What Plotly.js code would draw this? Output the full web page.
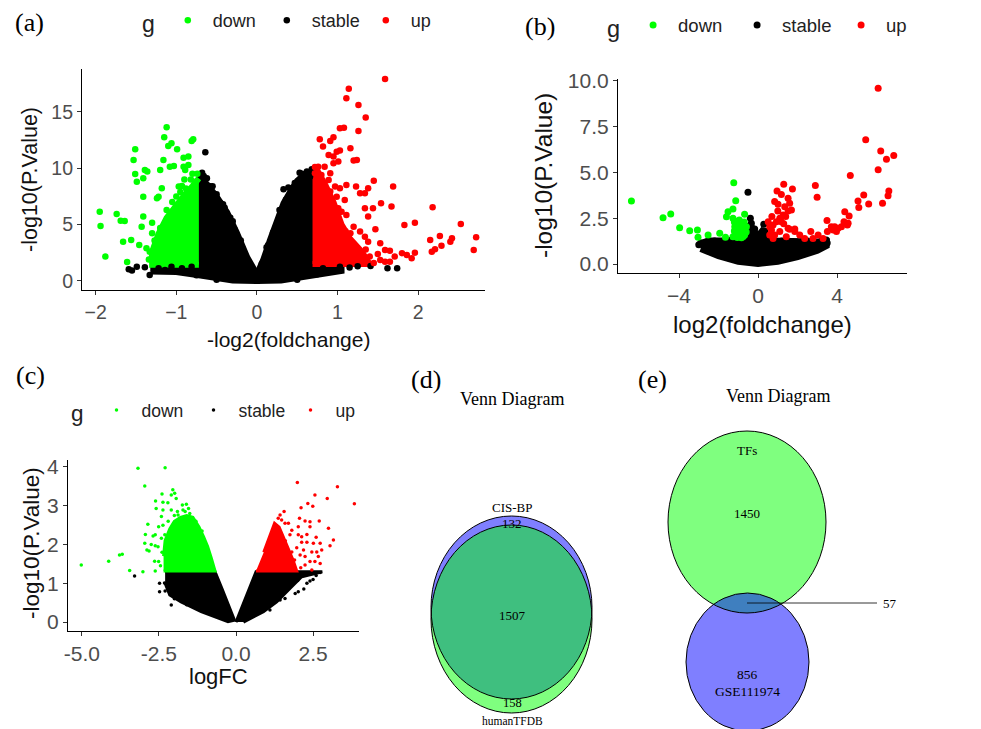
<!DOCTYPE html>
<html><head><meta charset="utf-8">
<script src="https://cdn.plot.ly/plotly-3.0.1.min.js"></script>
<style>html,body{margin:0;padding:0;background:#fff}#chart{width:981px;height:729px}</style>
</head><body><div id="chart"></div>
<script>
// ---------------- DATA ----------------
const groups = ['down','stable','up'];
// Panel (a)
const a_down_x = [-1.95,-1.94,-1.88,-1.74,-1.69,-1.64,-1.66,-1.56,-1.61,-1.51,-1.53,-1.51,-1.49,-1.41,-1.39,-1.36,-1.41,-1.41,-1.43,-1.46,-1.37,-1.30,-1.30,-1.24,-1.22,-1.18,-1.20,-1.16,-1.15,-1.12,-1.10,-1.06,-0.99,-1.08,-1.03,-0.91,-0.85,-0.91,-0.81,-0.79,-0.93,-0.89,-0.85,-0.97,-1.25,-1.30,-1.27,-1.15,-1.12,-1.05,-1.00,-0.95,-0.88,-0.82,-0.77,-0.74,-1.20,-1.34,-1.33,-1.05,-0.90,-0.80];
const a_down_y = [6.15,4.88,2.16,5.94,5.35,5.32,3.49,3.64,1.69,11.68,10.74,9.49,8.81,9.11,9.85,9.70,7.48,5.71,4.82,3.19,2.90,5.17,4.23,7.34,7.48,8.22,9.85,10.74,12.75,13.63,11.98,12.22,11.68,10.14,10.20,10.94,11.03,10.14,12.42,12.57,8.43,9.85,10.29,8.37,3.0,2.2,3.6,5.0,6.3,6.0,7.5,7.9,8.2,9.0,8.8,9.5,4.7,1.9,2.6,7.0,9.0,9.5];
const a_stable_x = [-1.59,-1.55,-1.49,-1.39,-1.33,-1.22,-1.14,-1.06,-0.93,-0.81,-0.64,-0.68,-0.62,-0.55,-0.50,-0.45,-0.40,-0.30,-0.20,0.33,0.39,0.53,0.60,0.66,0.62,0.45,0.40,0.28,0.12,1.41,1.62,1.74,1.03,0.91,0.82,1.15,1.25,0.75,-0.75,0.50,-0.50,-0.10,-0.18,-0.28,-0.33,-0.42,-0.58,-0.66,0.06,0.14,0.20,0.30,0.36,0.47,0.56,0.68];
const a_stable_y = [1.04,0.92,1.27,1.21,0.53,1.12,0.98,1.27,1.12,1.27,11.42,9.6,9.1,8.4,7.7,6.9,6.5,5.3,3.6,8.14,8.28,9.6,9.4,9.26,9.7,8.3,7.6,6.3,3.0,1.33,1.12,1.12,1.27,0.83,1.12,1.2,1.3,0.6,0.5,0.1,0.1,1.6,2.9,4.6,5.6,6.8,8.4,9.3,1.5,3.2,4.3,5.9,7.2,8.7,9.5,9.9];
const a_up_x = [1.59,1.14,1.11,1.26,1.35,1.03,1.08,1.26,0.78,0.91,0.95,0.82,0.99,1.03,1.16,0.89,0.95,1.24,1.20,1.01,0.95,0.76,0.84,0.72,0.80,0.91,0.80,0.89,0.97,1.03,1.11,1.23,1.45,1.69,1.28,1.34,1.38,0.91,0.99,1.09,0.91,1.54,1.34,1.44,1.67,2.18,1.01,1.05,1.11,1.38,1.47,1.83,1.96,2.53,1.20,1.28,1.34,1.38,1.53,1.16,2.15,2.27,2.40,2.29,2.42,2.72,2.69,2.17,2.21,1.96,1.86,1.80,1.65,1.59,1.71,1.59,1.65,1.53,1.40,1.28,1.16,1.92,1.45,1.35,1.20,1.10,1.00,0.90,0.85,0.75,0.72,1.50];
const a_up_y = [17.92,17.04,16.2,15.6,14.5,13.55,13.6,13.3,12.57,12.42,12.75,11.92,11.47,11.57,11.77,11.18,11.03,10.74,10.68,10.59,10.44,10.14,10.14,9.55,9.41,9.55,8.96,8.96,8.37,8.22,8.52,8.37,8.90,8.37,7.78,7.78,8.22,7.93,7.48,7.19,6.89,6.89,6.45,6.45,6.60,6.54,6.45,6.15,5.86,5.71,4.59,4.97,5.17,5.06,4.82,4.38,3.93,3.49,3.34,4.23,3.64,3.99,3.49,3.13,3.79,3.88,2.75,2.60,2.81,2.51,2.31,2.46,2.69,2.75,2.16,1.71,1.71,1.86,2.16,2.10,2.46,2.01,1.6,2.8,3.2,4.4,5.5,6.3,7.6,8.6,10.1,2.4];
// dense cores of panel (a), outlined by hand
const a_stableL_x = [-1.32,-0.72,-0.72,-0.62,-0.50,-0.37,-0.25,-0.12,0.0,0.0,-0.30,-0.60,-0.72,-1.00,-1.32];
const a_stableL_y = [1.30,1.35,9.20,8.60,7.50,6.10,4.30,2.10,0.60,0.0,0.05,0.30,0.50,0.80,0.85];
const a_stableR_x = [0.0,0.08,0.16,0.25,0.33,0.42,0.50,0.58,0.69,0.69,1.05,1.05,0.70,0.30,0.0];
const a_stableR_y = [0.60,1.90,3.60,5.30,6.90,8.00,8.90,9.40,9.60,1.40,1.30,0.90,0.50,0.05,0.0];
const a_downC_x = [-0.72,-1.30,-1.30,-1.22,-1.12,-1.00,-0.90,-0.80,-0.72];
const a_downC_y = [1.45,1.45,2.60,4.20,5.60,6.80,7.60,8.40,9.10];
const a_upC_x = [0.69,1.40,1.30,1.15,1.05,0.95,0.85,0.75,0.69];
const a_upC_y = [1.50,1.50,2.60,3.80,5.00,7.00,8.50,9.80,10.00];

// Panel (b)
const b_down_x = [-6.41,-4.81,-4.42,-3.97,-3.46,-3.07,-3.04,-2.53,-1.94,-1.65,-1.23,-1.13,-1.27,-1.52,-1.60,-0.68,-1.27,-1.10,-1.18,-1.01,-0.84,-0.76,-0.93,-1.10,-1.27,-0.68,-0.84,-0.59,-0.70,-0.95,-1.20,-0.60,-1.05,-0.75,-0.90,-1.20];
const b_down_y = [3.44,2.53,2.73,1.98,1.82,1.86,1.46,1.58,1.68,1.46,4.44,3.46,3.01,2.86,2.58,2.72,2.50,2.31,2.04,1.95,2.13,1.86,1.68,1.58,1.49,1.58,1.44,2.04,2.30,2.40,1.80,1.75,1.45,1.50,2.00,2.30];
const b_stable_x = [-3.0,-2.9,-2.6,-2.7,-2.3,-2.0,-1.7,-1.5,-1.0,3.5,3.3,3.0,2.7,2.3,2.0,1.5,-0.51,-0.39,-0.34,-0.42,-0.17,0.29,0.34,-0.55,0.10,1.2,1.6,2.5,3.2,3.46,-1.5,-2.2,0.6,-0.8];
const b_stable_y = [1.05,1.15,1.2,0.95,0.85,0.6,0.55,0.45,0.3,1.15,1.05,0.9,0.75,0.55,0.5,0.35,3.92,2.5,2.22,1.95,1.91,2.17,1.77,1.68,1.5,1.25,1.2,1.25,1.24,1.31,1.3,1.25,1.1,1.1];
const b_up_x = [6.08,5.45,6.21,6.50,6.87,6.08,4.67,6.62,6.58,6.30,5.60,5.35,5.06,5.10,4.39,4.61,4.35,4.52,4.22,4.05,3.88,3.80,3.97,3.71,3.51,4.56,3.49,2.90,2.99,2.67,3.04,3.29,2.78,2.36,2.11,1.86,1.60,1.43,1.30,1.74,0.96,1.18,1.52,1.60,0.84,1.01,1.35,1.69,1.52,1.27,1.10,0.93,0.76,0.68,0.84,1.10,0.59,0.76,1.18,1.52,1.86,0.51,0.59,1.00,1.30,0.70,1.40];
const b_up_y = [9.6,6.78,6.17,5.72,5.92,5.14,4.83,3.99,3.73,3.32,3.28,3.77,3.44,3.08,2.86,2.62,2.31,2.13,2.04,1.95,2.04,1.86,1.77,2.04,1.77,2.22,2.37,4.28,3.64,1.77,1.58,1.40,1.40,1.40,1.58,1.91,1.90,1.49,4.35,4.10,3.99,3.80,3.59,3.32,3.41,3.26,3.13,2.95,2.90,2.68,2.50,2.31,2.13,1.86,1.58,1.77,1.58,1.40,2.31,1.95,1.77,2.31,2.04,2.90,2.20,2.60,2.60];
const b_stableC_x = [-2.95,-2.5,-0.6,-0.55,-0.4,-0.25,0.0,0.3,0.45,0.5,3.0,3.45,3.45,3.0,2.0,1.0,0.0,-1.0,-2.0,-2.9];
const b_stableC_y = [1.1,1.25,1.25,1.6,2.2,1.8,1.5,1.9,1.5,1.25,1.2,1.2,1.0,0.75,0.4,0.15,0.03,0.15,0.45,0.85];

// Panel (c)
const c_down_x = [-3.18,-2.30,-2.96,-5.02,-4.13,-3.78,-3.69,-3.45,-3.02,-2.62,-2.86,-2.94,-2.96,-2.89,-2.82,-2.69,-2.62,-2.75,-2.62,-2.53,-2.64,-2.51,-2.61,-2.59,-2.40,-2.37,-2.21,-2.37,-2.42,-2.51,-2.37,-2.31,-2.42,-2.05,-1.99,-2.10,-1.94,-1.74,-1.61,-1.54,-1.72,-1.88,-2.10,-2.20,-1.90,-1.50,-1.30,-1.10,-2.45,-2.40,-2.00,-1.65,-2.25];
const c_down_y = [3.97,3.98,3.51,1.47,1.57,1.73,1.75,1.33,1.30,1.32,2.52,2.26,2.03,1.86,1.83,2.22,2.25,2.00,1.97,1.94,1.57,1.56,3.12,2.93,3.30,3.09,3.08,2.89,2.72,2.46,2.50,2.25,2.16,3.41,3.32,3.28,3.19,3.02,3.04,2.93,2.89,2.76,2.89,2.60,2.85,2.80,2.60,2.35,1.45,1.80,2.75,2.85,2.00];
const c_stable_x = [-3.29,-2.48,-2.32,-2.48,-2.30,-2.10,-2.00,-1.60,2.40,2.30,2.02,1.92,1.59,1.43,1.10,2.73,2.20,2.00,2.60,2.50];
const c_stable_y = [1.19,1.00,1.01,0.78,0.80,0.44,0.60,0.45,1.06,1.00,0.78,0.74,0.61,0.57,0.31,1.28,0.85,1.07,1.20,1.10];
const c_up_x = [1.99,3.29,2.56,2.96,2.33,2.49,2.11,3.84,1.56,1.43,1.37,1.48,1.59,2.06,2.24,2.40,2.70,2.40,2.02,3.00,3.05,3.16,1.70,1.81,1.75,2.02,2.13,2.30,2.60,2.13,2.30,2.51,2.73,1.97,2.19,2.46,2.62,2.78,2.67,2.56,2.73,2.40,2.24,2.46,2.24,2.08,1.81,1.30,1.60,1.90,1.15,2.10];
const c_up_y = [3.60,3.49,3.28,3.19,3.06,2.99,2.95,3.05,2.85,2.76,2.68,2.63,2.55,2.68,2.61,2.59,2.61,2.46,2.46,2.42,1.97,2.12,2.55,2.37,2.25,2.25,2.20,2.26,2.19,2.06,2.06,2.03,2.03,1.92,1.86,1.81,1.81,1.86,1.69,1.56,1.51,1.56,1.47,1.34,1.69,1.73,1.81,2.40,2.10,1.60,2.10,1.40];
const c_downC_x = [-2.35,-0.68,-0.80,-0.92,-1.05,-1.20,-1.40,-1.60,-1.80,-2.00,-2.15,-2.30,-2.35];
const c_downC_y = [1.32,1.32,1.65,1.95,2.20,2.45,2.70,2.75,2.70,2.60,2.40,2.10,1.70];
const c_upC_x = [0.65,1.97,1.85,1.70,1.55,1.40,1.25,1.10,0.90];
const c_upC_y = [1.32,1.32,1.60,1.90,2.20,2.45,2.55,2.25,1.80];
const c_stableL_x = [-2.30,-0.68,-0.45,-0.25,-0.05,-0.26,-1.13,-1.78,-2.15,-2.30];
const c_stableL_y = [1.30,1.30,0.85,0.45,0.05,0.01,0.27,0.52,0.70,1.00];
const c_stableR_x = [0.00,0.25,0.45,0.65,2.80,2.13,1.75,1.32,0.89,0.24];
const c_stableR_y = [0.00,0.50,0.90,1.30,1.30,1.17,0.87,0.52,0.27,0.00];

// Panels (d), (e): Venn counts
const vennD_sets = ['CIS-BP','humanTFDB'];
const vennD_counts = [132, 1507, 158];   // only CIS-BP, both, only humanTFDB
const vennE_sets = ['TFs','GSE111974'];
const vennE_counts = [1450, 57, 856];    // only TFs, both, only GSE111974

// ---------------- LAYOUT / STYLE ----------------
const W = 981, H = 729;
const fx = p => p / W, fy = p => 1 - p / H;
const SANS = 'Liberation Sans, Arial, sans-serif';
const SERIF = 'Liberation Serif, Times New Roman, serif';
const COL = {down:'#00ff00', stable:'#000000', up:'#ff0000'};

const traces = [];
function poly(xs, ys, col, lw, xa, ya){
  traces.push({x:xs, y:ys, type:'scatter', mode:'lines', fill:'toself', fillcolor:col,
    line:{color:col, width:lw}, xaxis:xa, yaxis:ya, showlegend:false, hoverinfo:'skip'});
}
function pts(xs, ys, g, size, xa, ya, leg){
  traces.push({x:xs, y:ys, type:'scatter', mode:'markers', name:g,
    marker:{color:COL[g], size:size, line:{width:0}}, xaxis:xa, yaxis:ya,
    legend:leg, legendrank: groups.indexOf(g)+1, showlegend:true});
}
// (a)
poly(a_stableL_x, a_stableL_y, COL.stable, 6, 'x', 'y');
poly(a_stableR_x, a_stableR_y, COL.stable, 6, 'x', 'y');
poly(a_downC_x, a_downC_y, COL.down, 6, 'x', 'y');
poly(a_upC_x, a_upC_y, COL.up, 6, 'x', 'y');
pts(a_stable_x, a_stable_y, 'stable', 6.5, 'x', 'y', 'legend');
pts(a_down_x, a_down_y, 'down', 6.5, 'x', 'y', 'legend');
pts(a_up_x, a_up_y, 'up', 6.5, 'x', 'y', 'legend');
// (b)
poly(b_stableC_x, b_stableC_y, COL.stable, 7, 'x2', 'y2');
pts(b_stable_x, b_stable_y, 'stable', 7, 'x2', 'y2', 'legend2');
pts(b_down_x, b_down_y, 'down', 7, 'x2', 'y2', 'legend2');
pts(b_up_x, b_up_y, 'up', 7, 'x2', 'y2', 'legend2');
// (c)
poly(c_stableL_x, c_stableL_y, COL.stable, 3, 'x3', 'y3');
poly(c_stableR_x, c_stableR_y, COL.stable, 3, 'x3', 'y3');
poly(c_downC_x, c_downC_y, COL.down, 3, 'x3', 'y3');
poly(c_upC_x, c_upC_y, COL.up, 3, 'x3', 'y3');
pts(c_stable_x, c_stable_y, 'stable', 3.5, 'x3', 'y3', 'legend3');
pts(c_down_x, c_down_y, 'down', 3.5, 'x3', 'y3', 'legend3');
pts(c_up_x, c_up_y, 'up', 3.5, 'x3', 'y3', 'legend3');

function axis(d0, d1, range, tickSize, extra){
  return Object.assign({domain:[d0, d1], range:range, showline:true, linecolor:'#000', linewidth:1.1,
    ticks:'outside', ticklen:4, tickwidth:1, tickcolor:'#333', showgrid:false, zeroline:false,
    automargin:false, fixedrange:true,
    tickfont:{family:SANS, size:tickSize, color:'#4d4d4d'}, title:{text:''}}, extra||{});
}
function legend(xp, yp, fs, ew){
  return {orientation:'h', x:fx(xp), xanchor:'left', y:fy(yp), yanchor:'middle',
    title:{text:'g', side:'left', font:{family:SANS, size:fs+5, color:'#222'}},
    font:{family:SANS, size:fs, color:'#222'}, entrywidth:ew, entrywidthmode:'pixels',
    itemwidth:40, bgcolor:'rgba(0,0,0,0)', borderwidth:0, traceorder:'normal', itemclick:false};
}

const shapes = [];
function ell(x0, x1, y0, y1, fill, line){
  shapes.push({type:'circle', xref:'paper', yref:'paper', x0:fx(x0), x1:fx(x1), y0:fy(y1), y1:fy(y0),
    fillcolor:fill, line:{color:line, width: line==='rgba(0,0,0,0)'?0:1}, layer:'above'});
}
// (d): CIS-BP (blue) below humanTFDB (green)
const dBlue = [431, 592, 516, 699], dGreen = [431, 592, 525, 713];
ell(...dBlue, 'rgba(0,0,255,0.5)', 'rgba(0,0,0,0)');
ell(...dGreen, 'rgba(0,255,0,0.5)', 'rgba(0,0,0,0)');
ell(...dBlue, 'rgba(0,0,0,0)', '#000');
ell(...dGreen, 'rgba(0,0,0,0)', '#000');
// (e): TFs (green) below GSE111974 (blue)
const eGreen = [668, 826, 431, 613], eBlue = [686, 809, 593, 731];
ell(...eGreen, 'rgba(0,255,0,0.5)', 'rgba(0,0,0,0)');
ell(...eBlue, 'rgba(0,0,255,0.5)', 'rgba(0,0,0,0)');
ell(...eGreen, 'rgba(0,0,0,0)', '#000');
ell(...eBlue, 'rgba(0,0,0,0)', '#000');
shapes.push({type:'line', xref:'paper', yref:'paper', x0:fx(747), x1:fx(877), y0:fy(603), y1:fy(603), line:{color:'#000', width:0.8}, layer:'above'});

const ann = [];
function txt(t, x, y, size, family, anchor, angle, color){
  ann.push({text:t, xref:'paper', yref:'paper', x:fx(x), y:fy(y), xanchor:anchor||'center', yanchor:'middle',
    showarrow:false, textangle:angle||0, font:{family:family||SERIF, size:size, color:color||'#000'}});
}
// panel letters
txt('(a)', 29, 22, 26); txt('(b)', 540, 27, 26); txt('(c)', 30, 376, 26);
txt('(d)', 426, 379, 26); txt('(e)', 652, 379, 26);
// axis titles
txt('-log2(foldchange)', 288, 340, 21, SANS, 'center', 0, '#111');
txt('-log10(P.Value)', 30, 180, 21.5, SANS, 'center', -90, '#111');
txt('log2(foldchange)', 762, 325, 24, SANS, 'center', 0, '#111');
txt('-log10(P.Value)', 544, 176, 24.5, SANS, 'center', -90, '#111');
txt('logFC', 218, 676, 22, SANS, 'center', 0, '#111');
txt('-log10(P.Value)', 31, 543, 22.5, SANS, 'center', -90, '#111');
// Venn texts
txt('Venn Diagram', 512, 399, 18); txt('Venn Diagram', 778, 396, 18);
txt(vennD_sets[0], 512, 507, 13); txt(String(vennD_counts[0]), 512, 523, 13);
txt(String(vennD_counts[1]), 512, 615, 13); txt(String(vennD_counts[2]), 512, 702.5, 12.5);
txt(vennD_sets[1], 512, 720.5, 11.5);
txt(vennE_sets[0], 747, 450, 13); txt(String(vennE_counts[0]), 747, 513, 13);
txt(String(vennE_counts[1]), 881, 603, 13, SERIF, 'left');
txt(String(vennE_counts[2]), 747, 674, 13.5); txt(vennE_sets[1], 747, 691, 13.5);

const layout = {
  width:W, height:H, margin:{l:0, r:0, t:0, b:0}, paper_bgcolor:'#fff', plot_bgcolor:'rgba(0,0,0,0)',
  font:{family:SANS}, showlegend:true, hovermode:false,
  xaxis: axis(fx(82), fx(485), [-2.17, 2.83], 19.5, {tickvals:[-2,-1,0,1,2], anchor:'y'}),
  yaxis: axis(fy(290), fy(69), [-0.8, 18.8], 19.5, {tickvals:[0,5,10,15], anchor:'x'}),
  xaxis2: axis(fx(618), fx(907), [-7.09, 7.54], 21, {tickvals:[-4,0,4], anchor:'y2'}),
  yaxis2: axis(fy(273), fy(79), [-0.49, 10.1], 21, {tickvals:[0,2.5,5,7.5,10], ticktext:['0.0','2.5','5.0','7.5','10.0'], anchor:'x2'}),
  xaxis3: axis(fx(68), fx(359), [-5.45, 3.99], 21, {tickvals:[-5,-2.5,0,2.5], ticktext:['-5.0','-2.5','0.0','2.5'], anchor:'y3'}),
  yaxis3: axis(fy(631), fy(460), [-0.23, 4.18], 21, {tickvals:[0,1,2,3,4], anchor:'x3'}),
  legend: legend(140, 22, 18, 44),
  legend2: legend(605, 27, 18.5, 49),
  legend3: legend(69, 412, 17.5, 42),
  shapes: shapes, annotations: ann
};
Plotly.newPlot('chart', traces, layout, {staticPlot:true, displayModeBar:false});
</script></body></html>
